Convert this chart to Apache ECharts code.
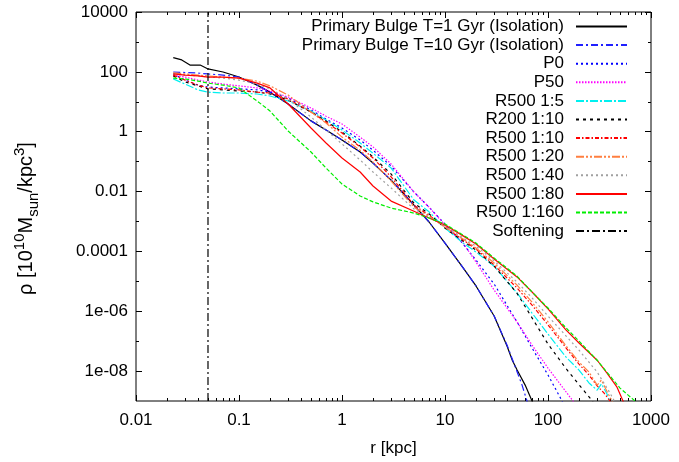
<!DOCTYPE html>
<html>
<head>
<meta charset="utf-8">
<script src="https://cdn.jsdelivr.net/npm/echarts@6/dist/echarts.min.js"></script>
<style>
  html, body { margin: 0; padding: 0; background: #fff; }
  #chart { width: 679px; height: 462px; }
</style>
</head>
<body>
<div id="chart"></div>
<script>
// Density profiles rho(r) of the primary bulge, [r in kpc, rho in 1e10 Msun/kpc^3]
const isoT1 = [[0.023,300],[0.0278,250],[0.0334,169],[0.042,169],[0.05,125],[0.07,99],[0.1,67],[0.15,36],[0.2,21],[0.3,8.4],[0.5,2.3],[0.7,1.14],[1,0.53],[1.5,0.21],[2,0.09],[3,0.024],[5,0.0035],[7,9.6e-4],[10,1.9e-4],[15,2.8e-5],[20,7.0e-6],[30,6.9e-7],[40,6.9e-8],[45,2.3e-8],[50,1.1e-8],[60,3.4e-9],[70,1.0e-9],[76,5e-10]];
const isoT10 = [[0.023,99],[0.03,95],[0.04,91],[0.05,85],[0.07,78],[0.1,67],[0.15,36],[0.2,21],[0.3,8.4],[0.5,2.3],[0.7,1.14],[1,0.53],[1.5,0.21],[2,0.09],[3,0.024],[5,0.0035],[7,9.6e-4],[10,1.9e-4],[15,2.8e-5],[20,7.0e-6],[30,6.9e-7],[40,7.4e-8],[48,1.4e-8],[56,3.4e-9],[62,1.1e-9],[66,5e-10]];
const p0 = [[0.023,85],[0.03,53],[0.04,36],[0.05,31],[0.07,29],[0.1,27],[0.15,25],[0.2,21],[0.3,13.4],[0.5,5.3],[0.7,2.65],[1,1.33],[1.5,0.53],[2,0.24],[3,0.071],[5,0.0096],[7,0.003],[10,8.2e-4],[15,1.76e-4],[20,5.1e-5],[30,8.1e-6],[50,4.4e-7],[70,5.9e-8],[100,7.4e-9],[137,1.0e-9],[145,5e-10]];
const p50 = [[0.023,78],[0.03,67],[0.04,53],[0.05,46],[0.07,39],[0.1,34],[0.15,29],[0.2,23],[0.3,14.4],[0.5,6.2],[0.7,3.3],[1,1.8],[1.5,0.66],[2,0.31],[3,0.083],[5,0.0096],[7,0.003],[10,7.6e-4],[15,1.9e-4],[20,4.4e-5],[30,5.1e-6],[50,4.4e-7],[70,7.4e-8],[100,1.26e-8],[150,2.0e-9],[175,1.0e-9],[185,5e-10]];
const r500_5 = [[0.023,58],[0.03,39],[0.04,25],[0.05,21],[0.07,19.6],[0.1,19.6],[0.15,18.2],[0.2,15.6],[0.3,10.6],[0.5,4.9],[0.7,2.46],[1,1.14],[1.5,0.42],[2,0.19],[3,0.061],[5,0.0052],[7,0.0021],[10,6.0e-4],[15,1.9e-4],[20,9.5e-5],[30,3.2e-5],[50,4.1e-6],[70,8.7e-7],[100,1.73e-7],[150,2.9e-8],[200,1.08e-8],[250,4.0e-9],[300,2.3e-9],[330,3.7e-9],[370,1.85e-9],[400,1.0e-9],[430,5e-10]];
const r200_10 = [[0.023,73],[0.03,46],[0.04,34],[0.05,27],[0.07,25],[0.1,23],[0.15,21],[0.2,18.2],[0.3,11.5],[0.5,4.55],[0.7,2.28],[1,0.98],[1.5,0.33],[2,0.143],[3,0.0385],[5,0.0041],[7,0.0018],[10,6.0e-4],[15,2.2e-4],[20,1.1e-4],[30,3.2e-5],[50,4.0e-6],[70,6.0e-7],[100,8.0e-8],[150,1.2e-8],[200,3.5e-9],[270,1.0e-9],[290,5e-10]];
const r500_10 = [[0.023,78],[0.03,53],[0.04,36],[0.05,29],[0.07,27],[0.1,25],[0.15,21],[0.2,19.6],[0.3,12.4],[0.5,4.55],[0.7,2.1],[1,0.9],[1.5,0.31],[2,0.132],[3,0.031],[5,0.0035],[7,0.0016],[10,6.5e-4],[15,2.4e-4],[20,1.2e-4],[30,3.5e-5],[50,6.0e-6],[70,1.6e-6],[100,3.5e-7],[150,5.9e-8],[200,1.7e-8],[250,7.4e-9],[300,3.2e-9],[350,1.85e-9],[400,1.0e-9],[430,5e-10]];
const r500_20 = [[0.023,92],[0.03,85],[0.04,78],[0.05,73],[0.07,67],[0.1,62],[0.15,49],[0.2,34],[0.3,16.8],[0.5,4.55],[0.7,1.95],[1,0.66],[1.5,0.24],[2,0.097],[3,0.0225],[5,0.003],[7,0.0015],[10,6.5e-4],[15,2.6e-4],[20,1.3e-4],[30,4.1e-5],[50,7.5e-6],[70,2.0e-6],[100,4.4e-7],[150,6.9e-8],[200,2.0e-8],[250,9.3e-9],[300,3.4e-9],[330,5.0e-9],[380,1.85e-9],[420,1.0e-9],[450,5e-10]];
const r500_40 = [[0.023,85],[0.03,78],[0.04,73],[0.05,67],[0.07,62],[0.1,53],[0.15,39],[0.2,27],[0.3,12.4],[0.5,3.1],[0.7,1.14],[1,0.39],[1.5,0.113],[2,0.045],[3,0.0131],[5,0.0026],[7,0.0014],[10,7.0e-4],[15,2.8e-4],[20,1.5e-4],[30,4.8e-5],[50,9.5e-6],[70,2.8e-6],[100,6.9e-7],[150,1.48e-7],[200,5.0e-8],[300,9.3e-9],[400,1.85e-9],[440,1.0e-9],[470,5e-10]];
const r500_80 = [[0.023,85],[0.03,78],[0.04,73],[0.05,67],[0.07,67],[0.1,62],[0.15,42],[0.2,29],[0.3,8.4],[0.5,1.33],[0.7,0.42],[1,0.132],[1.5,0.045],[2,0.0153],[3,0.0048],[5,0.0022],[7,0.0013],[10,7.6e-4],[15,3.3e-4],[20,1.76e-4],[30,5.6e-5],[50,1.4e-5],[70,4.4e-6],[100,1.2e-6],[150,2.35e-7],[200,8.7e-8],[300,2.3e-8],[374,8.6e-9],[468,2.9e-9],[535,1.0e-9],[560,5e-10]];
const r500_160 = [[0.023,62],[0.03,58],[0.04,49],[0.05,42],[0.07,36],[0.1,29],[0.15,10.6],[0.2,4.9],[0.3,1.05],[0.5,0.21],[0.7,0.061],[1,0.0178],[1.5,0.0071],[2,0.0045],[3,0.0028],[5,0.0019],[7,0.0013],[10,8.2e-4],[15,3.5e-4],[20,1.9e-4],[30,6.0e-5],[50,1.5e-5],[70,4.4e-6],[100,1.28e-6],[150,2.75e-7],[200,1.0e-7],[300,2.3e-8],[500,2.7e-9],[700,1.0e-9],[760,5e-10]];
// Gravitational softening length (kpc), drawn as a vertical marker
const softening = [[0.05,1e-9],[0.05,1e4]];

// Tick values and their labels
const xMajor = [0.01, 0.1, 1, 10, 100, 1000];
const xTickLabels = ['0.01', '0.1', '1', '10', '100', '1000'];
const xMinor = [0.02,0.03,0.04,0.05,0.06,0.07,0.08,0.09,0.2,0.3,0.4,0.5,0.6,0.7,0.8,0.9,2,3,4,5,6,7,8,9,20,30,40,50,60,70,80,90,200,300,400,500,600,700,800,900];
const yMajor = [1e4, 1e2, 1, 1e-2, 1e-4, 1e-6, 1e-8];
const yTickLabels = ['10000', '100', '1', '0.01', '0.0001', '1e-06', '1e-08'];
const yMinor = [1e3, 1e1, 1e-1, 1e-3, 1e-5, 1e-7];

const FONT = 'Liberation Sans';

const seriesDefs = [
  { name: 'Primary Bulge T=1 Gyr (Isolation)', data: isoT1, color: '#000000', type: 'solid' },
  { name: 'Primary Bulge T=10 Gyr (Isolation)', data: isoT10, color: '#2020ff', type: [7, 3, 2, 3] },
  { name: 'P0', data: p0, color: '#0000ff', type: [2, 3] },
  { name: 'P50', data: p50, color: '#ff00ff', type: [1.5, 1.5] },
  { name: 'R500 1:5', data: r500_5, color: '#00f0f0', type: [8, 2, 2, 2] },
  { name: 'R200 1:10', data: r200_10, color: '#000000', type: [3, 4] },
  { name: 'R500 1:10', data: r500_10, color: '#ff0000', type: [4, 2, 1.5, 2] },
  { name: 'R500 1:20', data: r500_20, color: '#ff7f40', type: [8, 2, 2, 2, 2, 2] },
  { name: 'R500 1:40', data: r500_40, color: '#a0a0a0', type: [2, 3] },
  { name: 'R500 1:80', data: r500_80, color: '#ff0000', type: 'solid' },
  { name: 'R500 1:160', data: r500_160, color: '#00ee00', type: [4, 2] },
  { name: 'Softening', data: softening, color: '#000000', type: [8, 3, 2, 3] }
];

function labelFrom(values, labels) {
  return function (v) {
    for (let i = 0; i < values.length; i++) {
      if (Math.abs(Math.log10(v) - Math.log10(values[i])) < 1e-6) return labels[i];
    }
    return '';
  };
}

function logAxis(extra) {
  return Object.assign({
    type: 'log',
    logBase: 10,
    axisLine: { show: false, onZero: false },
    splitLine: { show: false },
    axisLabel: { show: false },
    axisTick: { show: true, inside: true, length: 6, lineStyle: { color: '#000', width: 1 } }
  }, extra);
}

const X = { min: 0.01, max: 1000 };
const Y = { min: 1e-9, max: 1e4 };
const tickMajor = (vals) => ({ show: true, inside: true, length: 6, customValues: vals, lineStyle: { color: '#000', width: 1 } });
const tickMinor = (vals) => ({ show: true, inside: true, length: 3, customValues: vals, lineStyle: { color: '#000', width: 1 } });

const option = {
  animation: false,
  backgroundColor: '#ffffff',
  grid: { left: 136, right: 28, top: 12, bottom: 61, show: true, borderColor: '#000', borderWidth: 1, backgroundColor: 'transparent' },
  xAxis: [
    logAxis(Object.assign({}, X, {
      position: 'bottom',
      axisTick: tickMajor(xMajor),
      axisLabel: { show: true, customValues: xMajor, formatter: labelFrom(xMajor, xTickLabels), margin: 11, color: '#000', fontSize: 17, fontFamily: FONT },
      name: 'r [kpc]', nameLocation: 'middle', nameGap: 39,
      nameTextStyle: { color: '#000', fontSize: 17, fontFamily: FONT }
    })),
    logAxis(Object.assign({}, X, { position: 'bottom', axisTick: tickMinor(xMinor) })),
    logAxis(Object.assign({}, X, { position: 'top', axisTick: tickMajor(xMajor) })),
    logAxis(Object.assign({}, X, { position: 'top', axisTick: tickMinor(xMinor) }))
  ],
  yAxis: [
    logAxis(Object.assign({}, Y, {
      position: 'left',
      axisTick: tickMajor(yMajor),
      axisLabel: { show: true, customValues: yMajor, formatter: labelFrom(yMajor, yTickLabels), margin: 8, color: '#000', fontSize: 17, fontFamily: FONT },
      name: '{t|ρ [10}{sup|10}{t|M}{sub|sun}{t|/kpc}{sup|3}{t|]}',
      nameLocation: 'middle', nameRotate: 90, nameGap: 95,
      nameTextStyle: {
        color: '#000', fontSize: 20, fontFamily: FONT,
        padding: [0, 24, 0, 0],
        rich: {
          t: { fontSize: 20, fontFamily: FONT, color: '#000', lineHeight: 29 },
          sup: { fontSize: 15, fontFamily: FONT, color: '#000', verticalAlign: 'top' },
          sub: { fontSize: 15, fontFamily: FONT, color: '#000', verticalAlign: 'bottom' }
        }
      }
    })),
    logAxis(Object.assign({}, Y, { position: 'left', axisTick: tickMinor(yMinor) })),
    logAxis(Object.assign({}, Y, { position: 'right', axisTick: tickMajor(yMajor) })),
    logAxis(Object.assign({}, Y, { position: 'right', axisTick: tickMinor(yMinor) }))
  ],
  legend: {
    orient: 'vertical',
    right: 51,
    top: 18,
    padding: 0,
    align: 'right',
    itemWidth: 51,
    itemHeight: 14,
    itemGap: 1.6,
    selectedMode: false,
    itemStyle: { opacity: 0 },
    textStyle: { fontSize: 17, fontFamily: FONT, color: '#000', lineHeight: 14, padding: [0, 7, 0, 0] },
    data: seriesDefs.map(s => s.name)
  },
  series: seriesDefs.map(s => ({
    name: s.name,
    type: 'line',
    xAxisIndex: 0,
    yAxisIndex: 0,
    data: s.data,
    showSymbol: false,
    symbol: 'none',
    clip: true,
    lineStyle: { color: s.color, width: 1.2, type: s.type },
    itemStyle: { color: s.color },
    emphasis: { disabled: true }
  }))
};

const chart = echarts.init(document.getElementById('chart'), null, { renderer: 'canvas' });
chart.setOption(option);
</script>
</body>
</html>
